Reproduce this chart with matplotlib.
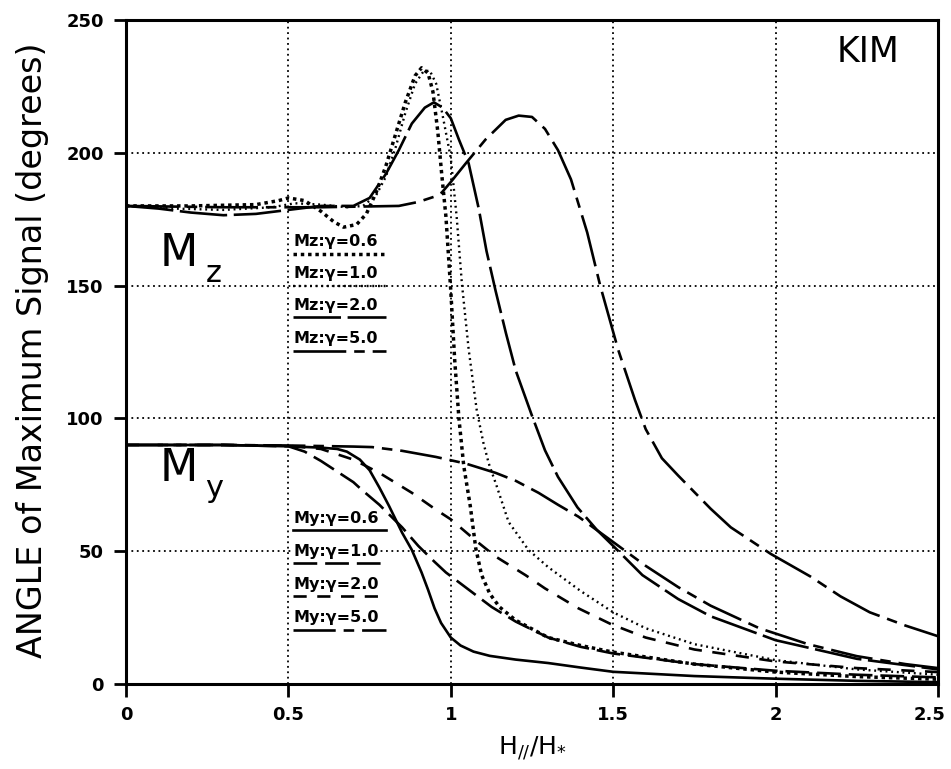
import matplotlib
matplotlib.use("Agg")
import matplotlib.pyplot as plt
from matplotlib.transforms import ScaledTranslation

# ---- data: angle of maximum signal vs. H_par / H_star (KIM model) ----
mz06_x = [0, 0.2, 0.4, 0.47, 0.5, 0.55, 0.6, 0.64, 0.67, 0.71, 0.74, 0.77, 0.8, 0.83, 0.86, 0.89,
          0.91, 0.93, 0.945, 0.96, 0.972, 0.985, 1.0, 1.012, 1.025, 1.04, 1.06, 1.077, 1.095, 1.12,
          1.15, 1.2, 1.3, 1.4, 1.5, 1.75, 2.0, 2.25, 2.5]
mz06_y = [180, 180, 180.5, 182, 183, 182, 178, 174, 172, 173, 177, 185, 195, 207, 219, 229,
          232, 230, 223, 208, 192, 176, 148, 122, 100, 82, 67, 51, 41, 34,
          29, 24, 17.5, 14.5, 12, 7.5, 4.5, 2.8, 1.8]

mz10_x = [0, 0.15, 0.3, 0.45, 0.52, 0.6, 0.68, 0.73, 0.77, 0.8, 0.83, 0.86, 0.89, 0.915, 0.935,
          0.955, 0.975, 1.0, 1.018, 1.034, 1.055, 1.08, 1.1, 1.117, 1.14, 1.178, 1.239, 1.3, 1.4,
          1.5, 1.6, 1.75, 2.0, 2.25, 2.5]
mz10_y = [180, 179, 178.5, 179.5, 181, 180.5, 179.5, 180, 184, 191, 202, 215, 226, 230.5, 231,
          226, 214, 198, 176, 151, 126, 103, 91, 83, 75, 61, 50.5, 44, 35,
          27, 21, 15, 9, 5.5, 3.5]

mz20_x = [0, 0.1, 0.2, 0.3, 0.4, 0.5, 0.6, 0.7, 0.75, 0.8, 0.84, 0.88, 0.92, 0.948, 0.975, 1.0,
          1.025, 1.055, 1.086, 1.11, 1.138, 1.17, 1.2, 1.25, 1.29, 1.33, 1.39, 1.45, 1.5, 1.59,
          1.7, 1.8, 2.0, 2.25, 2.5]
mz20_y = [180, 179, 177.5, 176.5, 177, 178.5, 180, 180, 183, 192, 201, 211, 217, 219, 217, 213,
          205, 196, 179, 163, 148, 132, 118, 101, 88, 78, 66.5, 58, 52, 41,
          32, 25.5, 16.5, 9.5, 5.5]

mz50_x = [0, 0.3, 0.6, 0.84, 0.9, 0.95, 0.972, 1.0, 1.046, 1.107, 1.169, 1.209, 1.25, 1.29, 1.33,
          1.37, 1.42, 1.46, 1.515, 1.567, 1.6, 1.65, 1.7, 1.8, 1.862, 1.985, 2.107, 2.2, 2.29,
          2.4, 2.5]
mz50_y = [180, 179.5, 179.5, 180, 181.5, 183.5, 185, 189, 196, 205, 212.4, 214, 213.5, 209, 201,
          190, 170, 150, 126, 107, 96, 85, 78.5, 66, 59, 49, 40.5, 33, 27,
          22, 18]

my06_x = [0, 0.3, 0.5, 0.6, 0.65, 0.68, 0.72, 0.75, 0.78, 0.81, 0.85, 0.88, 0.91, 0.93, 0.95,
          0.97, 1.0, 1.03, 1.07, 1.12, 1.2, 1.3, 1.4, 1.5, 1.75, 2.0, 2.25, 2.5]
my06_y = [90, 90, 89.5, 89, 88.5, 87.5, 84.5, 80.5, 74, 67, 57, 50.5, 42, 35.5, 28.5,
          23, 17.5, 14.5, 12.2, 10.6, 9.2, 7.9, 6.2, 4.6, 3.0, 2.0, 1.2, 0.7]

my10_x = [0, 0.3, 0.5, 0.55, 0.6, 0.65, 0.7, 0.727, 0.78, 0.85, 0.9, 0.95, 0.985, 1.05, 1.126,
          1.2, 1.3, 1.4, 1.5, 1.75, 2.0, 2.25, 2.5]
my10_y = [90, 90, 89.5, 87.5, 84, 80, 76, 73, 67.5, 59, 52, 46, 42, 36, 29,
          23.5, 17.5, 14, 11.5, 7.5, 5, 3.5, 2.5]

my20_x = [0, 0.3, 0.5, 0.6, 0.7, 0.78, 0.88, 0.95, 1.0, 1.077, 1.138, 1.23, 1.29, 1.393, 1.494,
          1.6, 1.75, 2.0, 2.25, 2.5]
my20_y = [90, 90, 89.7, 88.5, 84.5, 79.5, 72, 66, 62, 54, 48, 41, 36, 28.5, 22.5,
          17.5, 13, 8.5, 6, 4.5]

my50_x = [0, 0.3, 0.5, 0.6, 0.7, 0.758, 0.85, 0.954, 1.046, 1.138, 1.2, 1.27, 1.33, 1.393, 1.494,
          1.6, 1.7, 1.8, 1.95, 2.1, 2.25, 2.4, 2.5]
my50_y = [90, 90, 89.8, 89.6, 89.4, 89.2, 87.8, 85.5, 83, 79.5, 76.5, 72, 67.5, 63, 54,
          44.5, 36.5, 29.5, 21, 15, 10.5, 7.5, 6]

xticks = [0, 0.5, 1, 1.5, 2, 2.5]
xtick_labels = ["0", "0.5", "1", "1.5", "2", "2.5"]
yticks = [0, 50, 100, 150, 200, 250]

mz_labels = ["Mz:\u03b3=0.6", "Mz:\u03b3=1.0", "Mz:\u03b3=2.0", "Mz:\u03b3=5.0"]
my_labels = ["My:\u03b3=0.6", "My:\u03b3=1.0", "My:\u03b3=2.0", "My:\u03b3=5.0"]
mz_label_y = [166.5, 154.5, 142.5, 130]
my_label_y = [62.5, 50, 37.5, 25]

# ---- line styles ----
sty_mz06 = dict(lw=2.5, linestyle=(0, (1.0, 1.1)))
sty_mz10 = dict(lw=1.7, linestyle=(0, (0.8, 1.6)))
sty_mz20 = dict(lw=1.9, linestyle=(0, (18, 2.5)))
sty_mz50 = dict(lw=1.9, linestyle=(0, (20, 3, 4, 3)))
sty_my06 = dict(lw=1.9, linestyle="-")
sty_my10 = dict(lw=1.9, linestyle=(0, (9, 3)))
sty_my20 = dict(lw=1.9, linestyle=(0, (5, 4)))
sty_my50 = dict(lw=1.9, linestyle=(0, (16, 3, 4, 3)))

fig = plt.figure(figsize=(9.51, 7.69), dpi=100)
ax = fig.add_axes([0.1325, 0.1105, 0.8538, 0.8635])

ax.set_xlim(0, 2.5)
ax.set_ylim(0, 250)

# dotted grid
for gx in xticks[1:-1]:
    ax.axvline(gx, color="black", lw=1.3, linestyle=(0, (1, 2)), zorder=1)
for gy in yticks[1:-1]:
    ax.axhline(gy, color="black", lw=1.3, linestyle=(0, (1, 2)), zorder=1)

curves = [
    (mz06_x, mz06_y, sty_mz06), (mz10_x, mz10_y, sty_mz10),
    (mz20_x, mz20_y, sty_mz20), (mz50_x, mz50_y, sty_mz50),
    (my06_x, my06_y, sty_my06), (my10_x, my10_y, sty_my10),
    (my20_x, my20_y, sty_my20), (my50_x, my50_y, sty_my50),
]
for cx, cy, st in curves:
    ax.plot(cx, cy, color="black", solid_capstyle="butt", dash_capstyle="butt", zorder=3, **st)

# curve key labels with underlines drawn in the matching line style
key_font = dict(family="DejaVu Sans", fontsize=11.5, fontweight="bold", color="black")
mz_styles = [sty_mz06, sty_mz10, sty_mz20, sty_mz50]
my_styles = [sty_my06, sty_my10, sty_my20, sty_my50]
for labels, ys, styles in [(mz_labels, mz_label_y, mz_styles), (my_labels, my_label_y, my_styles)]:
    for lab, yy, st in zip(labels, ys, styles):
        ax.text(0.515, yy, lab, ha="left", va="center", zorder=5,
                bbox=dict(facecolor="white", edgecolor="none", pad=1.0), **key_font)
        ax.plot([0.515, 0.80], [yy - 4.5, yy - 4.5], color="black", zorder=6,
                dash_capstyle="butt", **st)

# group labels
ax.text(0.105, 162, "M", fontsize=32, ha="left", va="center", family="DejaVu Sans")
ax.text(0.245, 154.5, "z", fontsize=22, ha="left", va="center", family="DejaVu Sans")
ax.text(0.105, 81, "M", fontsize=32, ha="left", va="center", family="DejaVu Sans")
ax.text(0.245, 73.5, "y", fontsize=22, ha="left", va="center", family="DejaVu Sans")
ax.text(2.285, 238, "KIM", fontsize=25, ha="center", va="center", family="DejaVu Sans")

ax.set_xticks(xticks)
ax.set_xticklabels(xtick_labels)
ax.set_yticks(yticks)
ax.tick_params(axis="both", direction="out", length=9, width=2, pad=7,
               labelsize=13)
for lab in ax.get_xticklabels() + ax.get_yticklabels():
    lab.set_fontweight("bold")
last = ax.get_xticklabels()[-1]
last.set_transform(last.get_transform() + ScaledTranslation(-8 / 100, 0, fig.dpi_scale_trans))
for sp in ax.spines.values():
    sp.set_linewidth(2.2)

ax.set_xlabel(r"H$_{//}$/H$_{*}$", fontsize=18, labelpad=8)
fig.text(0.034, 0.545, "ANGLE of Maximum Signal (degrees)", rotation=90,
         fontsize=24, ha="center", va="center", family="DejaVu Sans")

fig.savefig("out.png", dpi=100)
